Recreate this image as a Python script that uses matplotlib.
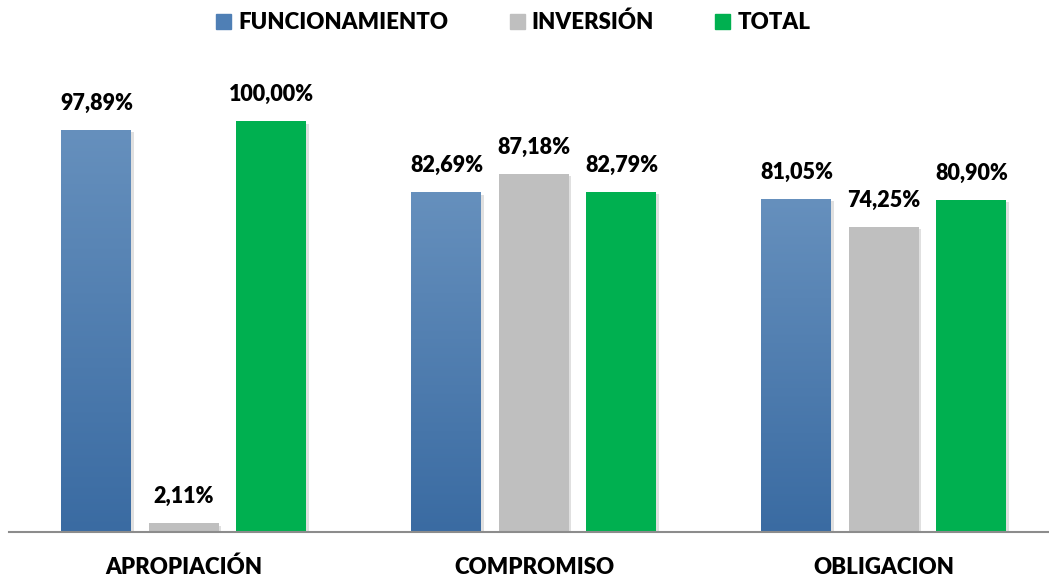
import matplotlib.pyplot as plt
import numpy as np
from matplotlib.lines import Line2D
from matplotlib.colors import LinearSegmentedColormap

plt.rcParams['font.family'] = ['Lato', 'DejaVu Sans']
plt.rcParams['font.weight'] = 'heavy'

categories = ['APROPIACIÓN', 'COMPROMISO', 'OBLIGACION']
series = ['FUNCIONAMIENTO', 'INVERSIÓN', 'TOTAL']
funcionamiento = [97.89, 82.69, 81.05]
inversion = [2.11, 87.18, 74.25]
total = [100.00, 82.79, 80.90]
labels_f = ['97,89%', '82,69%', '81,05%']
labels_i = ['2,11%', '87,18%', '74,25%']
labels_t = ['100,00%', '82,79%', '80,90%']

W, H = 1049, 577
fig = plt.figure(figsize=(W / 100, H / 100), dpi=100)
# axes in pixel coords: left 9, bottom line at y=532
ax = fig.add_axes([9 / W, 45 / H, 1050 / W, 493 / H])

x = np.arange(len(categories))
bw = 0.2
off = 0.25
blue_cmap = LinearSegmentedColormap.from_list('b', ['#3a6ba2', '#6690bd'])

data = [(funcionamiento, labels_f, None), (inversion, labels_i, '#bfbfbf'), (total, labels_t, '#00b050')]
for k, (vals, labs, col) in enumerate(data):
    xs = x + (k - 1) * off
    for xi, v, lab in zip(xs, vals, labs):
        # soft shadow
        ax.bar(xi + 0.006, v, bw, bottom=-0.6, color='#000000', alpha=0.12, zorder=1)
        if col is None:
            b = ax.bar(xi, v, bw, color='none', zorder=2)[0]
            grad = np.linspace(0, 1, 256).reshape(-1, 1)
            im = ax.imshow(grad, cmap=blue_cmap, aspect='auto', origin='lower',
                           extent=[xi - bw / 2, xi + bw / 2, 0, v], zorder=2)
            im.set_clip_path(b)
        else:
            ax.bar(xi, v, bw, color=col, zorder=2)
        ax.text(xi, v + 3.9, lab, ha='center', va='bottom', fontsize=15.5, fontweight='heavy')

ax.set_xlim(-0.5, 2.5)
ax.set_ylim(0, 120)
ax.set_yticks([])
ax.set_xticks(x)
ax.set_xticklabels(categories, fontsize=16, fontweight='heavy')
ax.tick_params(axis='x', length=0, pad=18)
for s in ['top', 'right', 'left']:
    ax.spines[s].set_visible(False)
ax.spines['bottom'].set_color('#8c8c8c')
ax.spines['bottom'].set_linewidth(1.5)

handles = [Line2D([], [], marker='s', ls='', markersize=10.8, color=c)
           for c in ['#4f7fb5', '#bfbfbf', '#00b050']]
fig.legend(handles, series, loc='center', bbox_to_anchor=(513 / W, 1 - 22 / H), ncol=3,
           frameon=False, handlelength=0.68, handletextpad=0.32,
           columnspacing=2.75, prop={'weight': 'heavy', 'size': 16})

fig.savefig('out.png', dpi=100)
